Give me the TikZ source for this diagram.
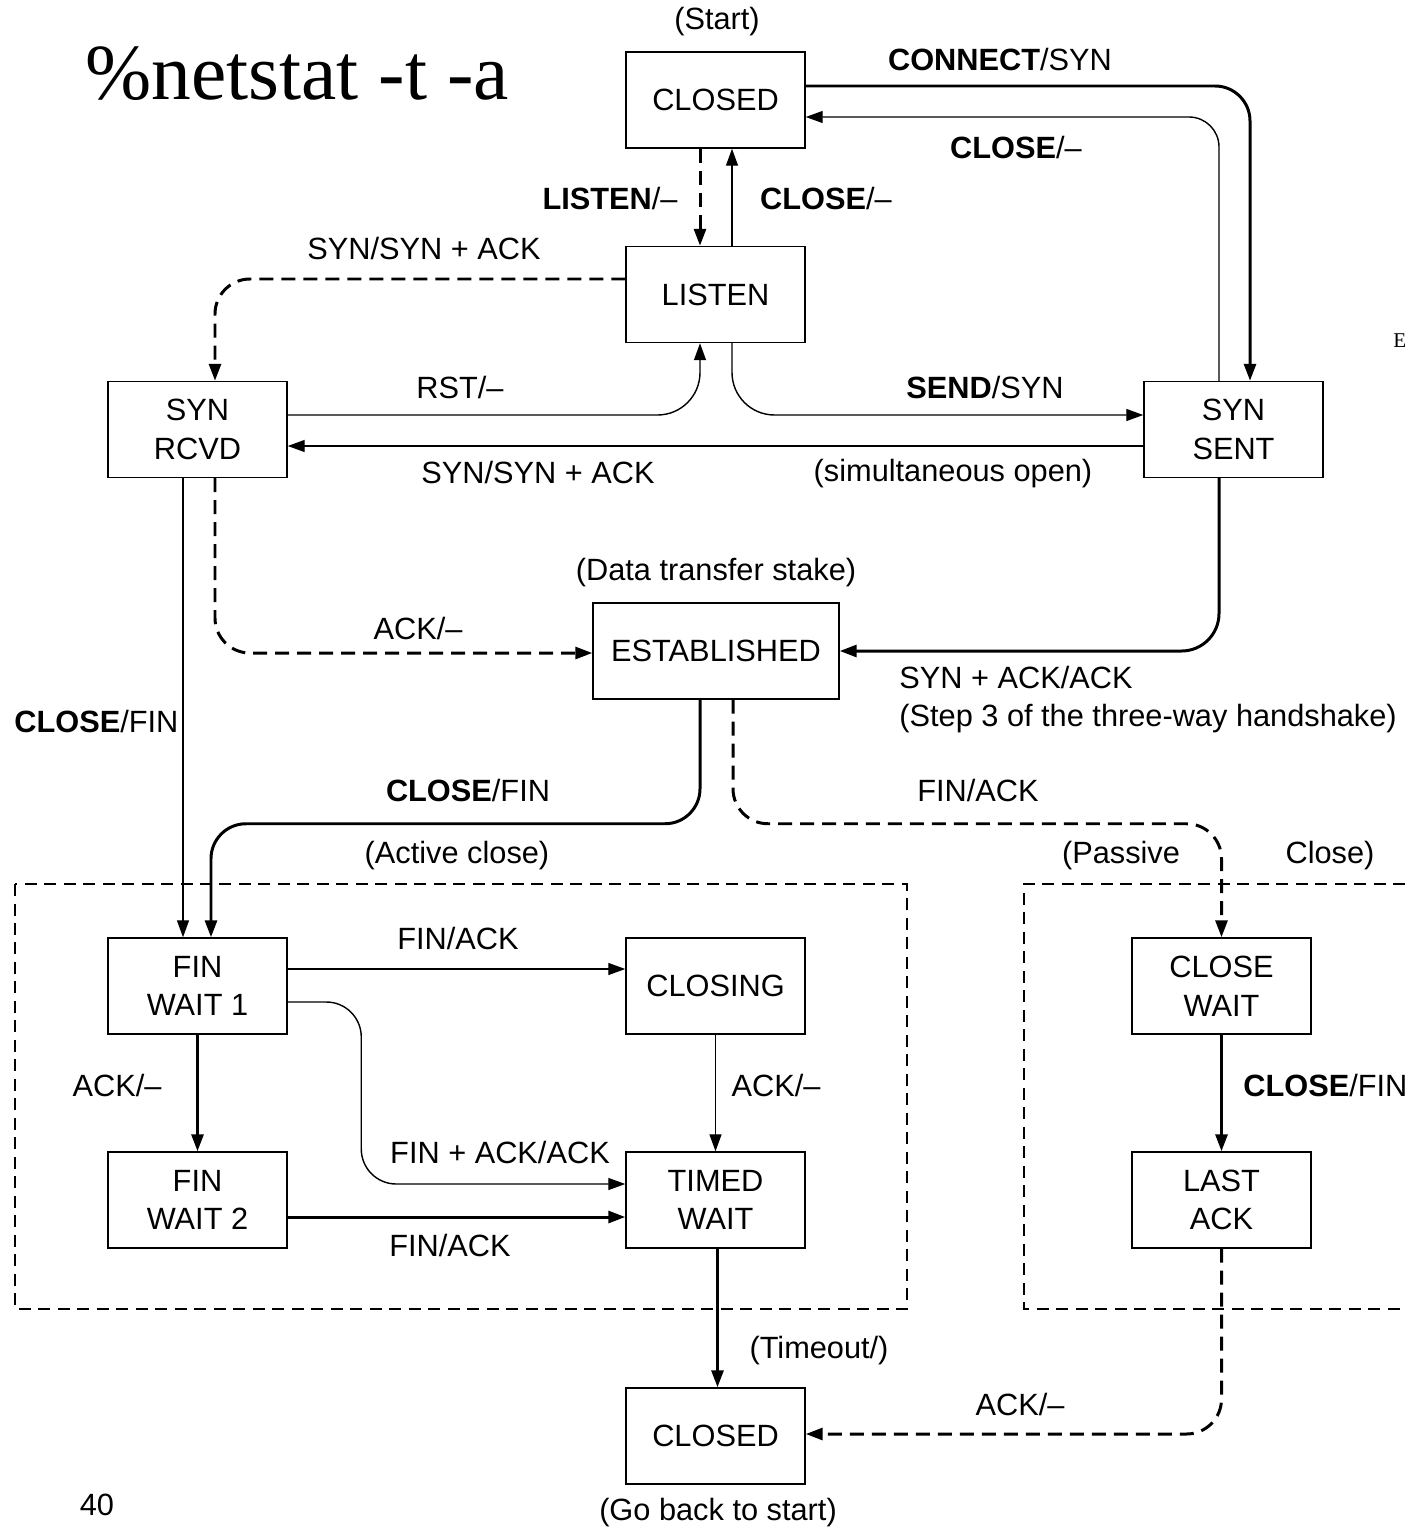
\documentclass[tikz,border=0pt]{standalone}
\usepackage{fontspec}
\setmainfont{Liberation Sans}
\newfontfamily\titlefont{Liberation Serif}
\usetikzlibrary{arrows.meta,calc}

\begin{document}
\begin{tikzpicture}[x=0.02cm,y=-0.02cm,
  every node/.style={font=\fontsize{17.5}{22}\selectfont},
  state/.style={draw, line width=0.85pt, minimum width=3.58cm, minimum height=1.92cm,
                inner sep=0pt, align=center},
  lbl/.style={inner sep=0pt},
  tipend/.style={-{Triangle[length=0.34cm,width=0.24cm]}},
  plainarr/.style={tipend, line width=0.8pt},
  boldarr/.style={tipend, line width=1.7pt},
  dasharr/.style={tipend, line width=1.7pt, dash pattern=on 0.28cm off 0.16cm},
  region/.style={line width=0.7pt, dash pattern=on 0.24cm off 0.15cm}
]
\useasboundingbox (0,0) rectangle (1405,1531);

% title and page number
\node[lbl, anchor=base west, font=\titlefont\fontsize{45.2}{50}\selectfont] (cmd) at (85,100) {\%netstat -t -a};
\node[lbl, anchor=base west, font=\titlefont\fontsize{12}{14}\selectfont] (edge) at (1393,347) {E};
\node[lbl] (pageno) at (97,1505) {40};

% grouping frames
\draw[region] (15,884) rectangle (907,1309);
\draw[region] (1405,884) -- (1024,884) -- (1024,1309) -- (1405,1309);

% states
\node[state] (closedtop) at (715.5,100)  {CLOSED};
\node[state] (listen)    at (715.5,294.5){LISTEN};
\node[state] (synrcvd)   at (197.5,429.5){SYN\\RCVD};
\node[state] (synsent)   at (1233.5,429.5){SYN\\SENT};
\node[state, minimum width=4.92cm] (estab) at (716,651) {ESTABLISHED};
\node[state] (finwait1)  at (197.5,986)  {FIN\\WAIT 1};
\node[state] (closing)   at (715.5,986)  {CLOSING};
\node[state] (finwait2)  at (197.5,1200) {FIN\\WAIT 2};
\node[state] (timedwait) at (715.5,1200) {TIMED\\WAIT};
\node[state] (closewait) at (1221.5,986) {CLOSE\\WAIT};
\node[state] (lastack)   at (1221.5,1200){LAST\\ACK};
\node[state] (closedbot) at (715.5,1436) {CLOSED};

% transitions
\draw[boldarr, rounded corners=0.7cm] ($(closedtop.east)+(0,-14)$) -| ($(synsent.north)+(16.5,0)$);
\draw[plainarr, rounded corners=0.6cm] ($(synsent.north)+(-14.5,0)$) |- ($(closedtop.east)+(0,17)$);
\draw[dasharr] ($(closedtop.south)+(-15.5,0)$) -- ($(listen.north)+(-15.5,0)$);
\draw[plainarr] ($(listen.north)+(16.5,0)$) -- ($(closedtop.south)+(16.5,0)$);
\draw[dasharr, rounded corners=0.7cm] ($(listen.west)+(0,-15.5)$) -| ($(synrcvd.north)+(17.5,0)$);
\draw[plainarr, rounded corners=0.85cm] ($(synrcvd.east)+(0,-14.5)$) -| ($(listen.south)+(-15.5,0)$);
\draw[plainarr, rounded corners=0.85cm] ($(listen.south)+(16.5,0)$) |- ($(synsent.west)+(0,-14.5)$);
\draw[plainarr] ($(synsent.west)+(0,16.5)$) -- ($(synrcvd.east)+(0,16.5)$);
\draw[dasharr, rounded corners=0.7cm] ($(synrcvd.south)+(17.5,0)$) |- ($(estab.west)+(0,2)$);
\draw[boldarr, rounded corners=0.75cm] ($(synsent.south)+(-14.5,0)$) |- (estab.east);
\draw[plainarr] ($(synrcvd.south)+(-14.5,0)$) -- ($(finwait1.north)+(-14.5,0)$);
\draw[boldarr, rounded corners=0.7cm] ($(estab.south)+(-16,0)$) -- ($(estab.south)+(-16,124)$) -| ($(finwait1.north)+(13.5,0)$);
\draw[dasharr, rounded corners=0.7cm] ($(estab.south)+(17,0)$) -- ($(estab.south)+(17,124)$) -| (closewait.north);
\draw[plainarr] ($(finwait1.east)+(0,-17)$) -- ($(closing.west)+(0,-17)$);
\draw[plainarr, rounded corners=0.7cm] ($(finwait1.east)+(0,16)$) -| ($(timedwait.west)+(-264,-16)$) -- ($(timedwait.west)+(0,-16)$);
\draw[boldarr] (finwait1.south) -- (finwait2.north);
\draw[plainarr] (closing.south) -- (timedwait.north);
\draw[boldarr] ($(finwait2.east)+(0,17)$) -- ($(timedwait.west)+(0,17)$);
\draw[boldarr] ($(timedwait.south)+(2,0)$) -- ($(closedbot.north)+(2,0)$);
\draw[boldarr] (closewait.south) -- (lastack.north);
\draw[dasharr, rounded corners=0.7cm] (lastack.south) |- ($(closedbot.east)+(0,-2)$);

% transition labels
\node[lbl] (tstart)   at (717,22)   {(Start)};
\node[lbl] (tconnect) at (1000,60)  {\textbf{CONNECT}/SYN};
\node[lbl] (tclose1)  at (1016,148) {\textbf{CLOSE}/–};
\node[lbl] (tlisten)  at (610,199)  {\textbf{LISTEN}/–};
\node[lbl] (tclose2)  at (826,199)  {\textbf{CLOSE}/–};
\node[lbl] (tsynack1) at (424,249)  {SYN/SYN + ACK};
\node[lbl] (trst)     at (460,388)  {RST/–};
\node[lbl] (tsend)    at (985,388)  {\textbf{SEND}/SYN};
\node[lbl] (tsynack2) at (538,473)  {SYN/SYN + ACK};
\node[lbl] (tsimul)   at (953,474)  {(simultaneous open)};
\node[lbl] (tdata)    at (716,573)  {(Data transfer stake)};
\node[lbl] (tack1)    at (418,629)  {ACK/–};
\node[lbl, anchor=west] (tsynack3) at (899,678) {SYN + ACK/ACK};
\node[lbl, anchor=west] (tstep3)   at (899,719) {(Step 3 of the three-way handshake)};
\node[lbl, anchor=west] (tclose3)  at (14,722)  {\textbf{CLOSE}/FIN};
\node[lbl] (tclose4)  at (468,791)  {\textbf{CLOSE}/FIN};
\node[lbl] (tfinack1) at (978,791)  {FIN/ACK};
\node[lbl] (tactive)  at (457,856)  {(Active close)};
\node[lbl] (tpass1)   at (1121,856) {(Passive};
\node[lbl] (tpass2)   at (1330,856) {Close)};
\node[lbl] (tfinack2) at (458,938)  {FIN/ACK};
\node[lbl] (tack2)    at (117,1085) {ACK/–};
\node[lbl] (tack3)    at (776,1085) {ACK/–};
\node[lbl, anchor=west] (tclose5) at (1243,1085) {\textbf{CLOSE}/FIN};
\node[lbl] (tfinack3) at (500,1152) {FIN + ACK/ACK};
\node[lbl] (tfinack4) at (450,1245) {FIN/ACK};
\node[lbl] (ttimeout) at (819,1351) {(Timeout/)};
\node[lbl] (tack4)    at (1020,1404){ACK/–};
\node[lbl] (tback)    at (718,1513) {(Go back to start)};
\end{tikzpicture}
\end{document}
